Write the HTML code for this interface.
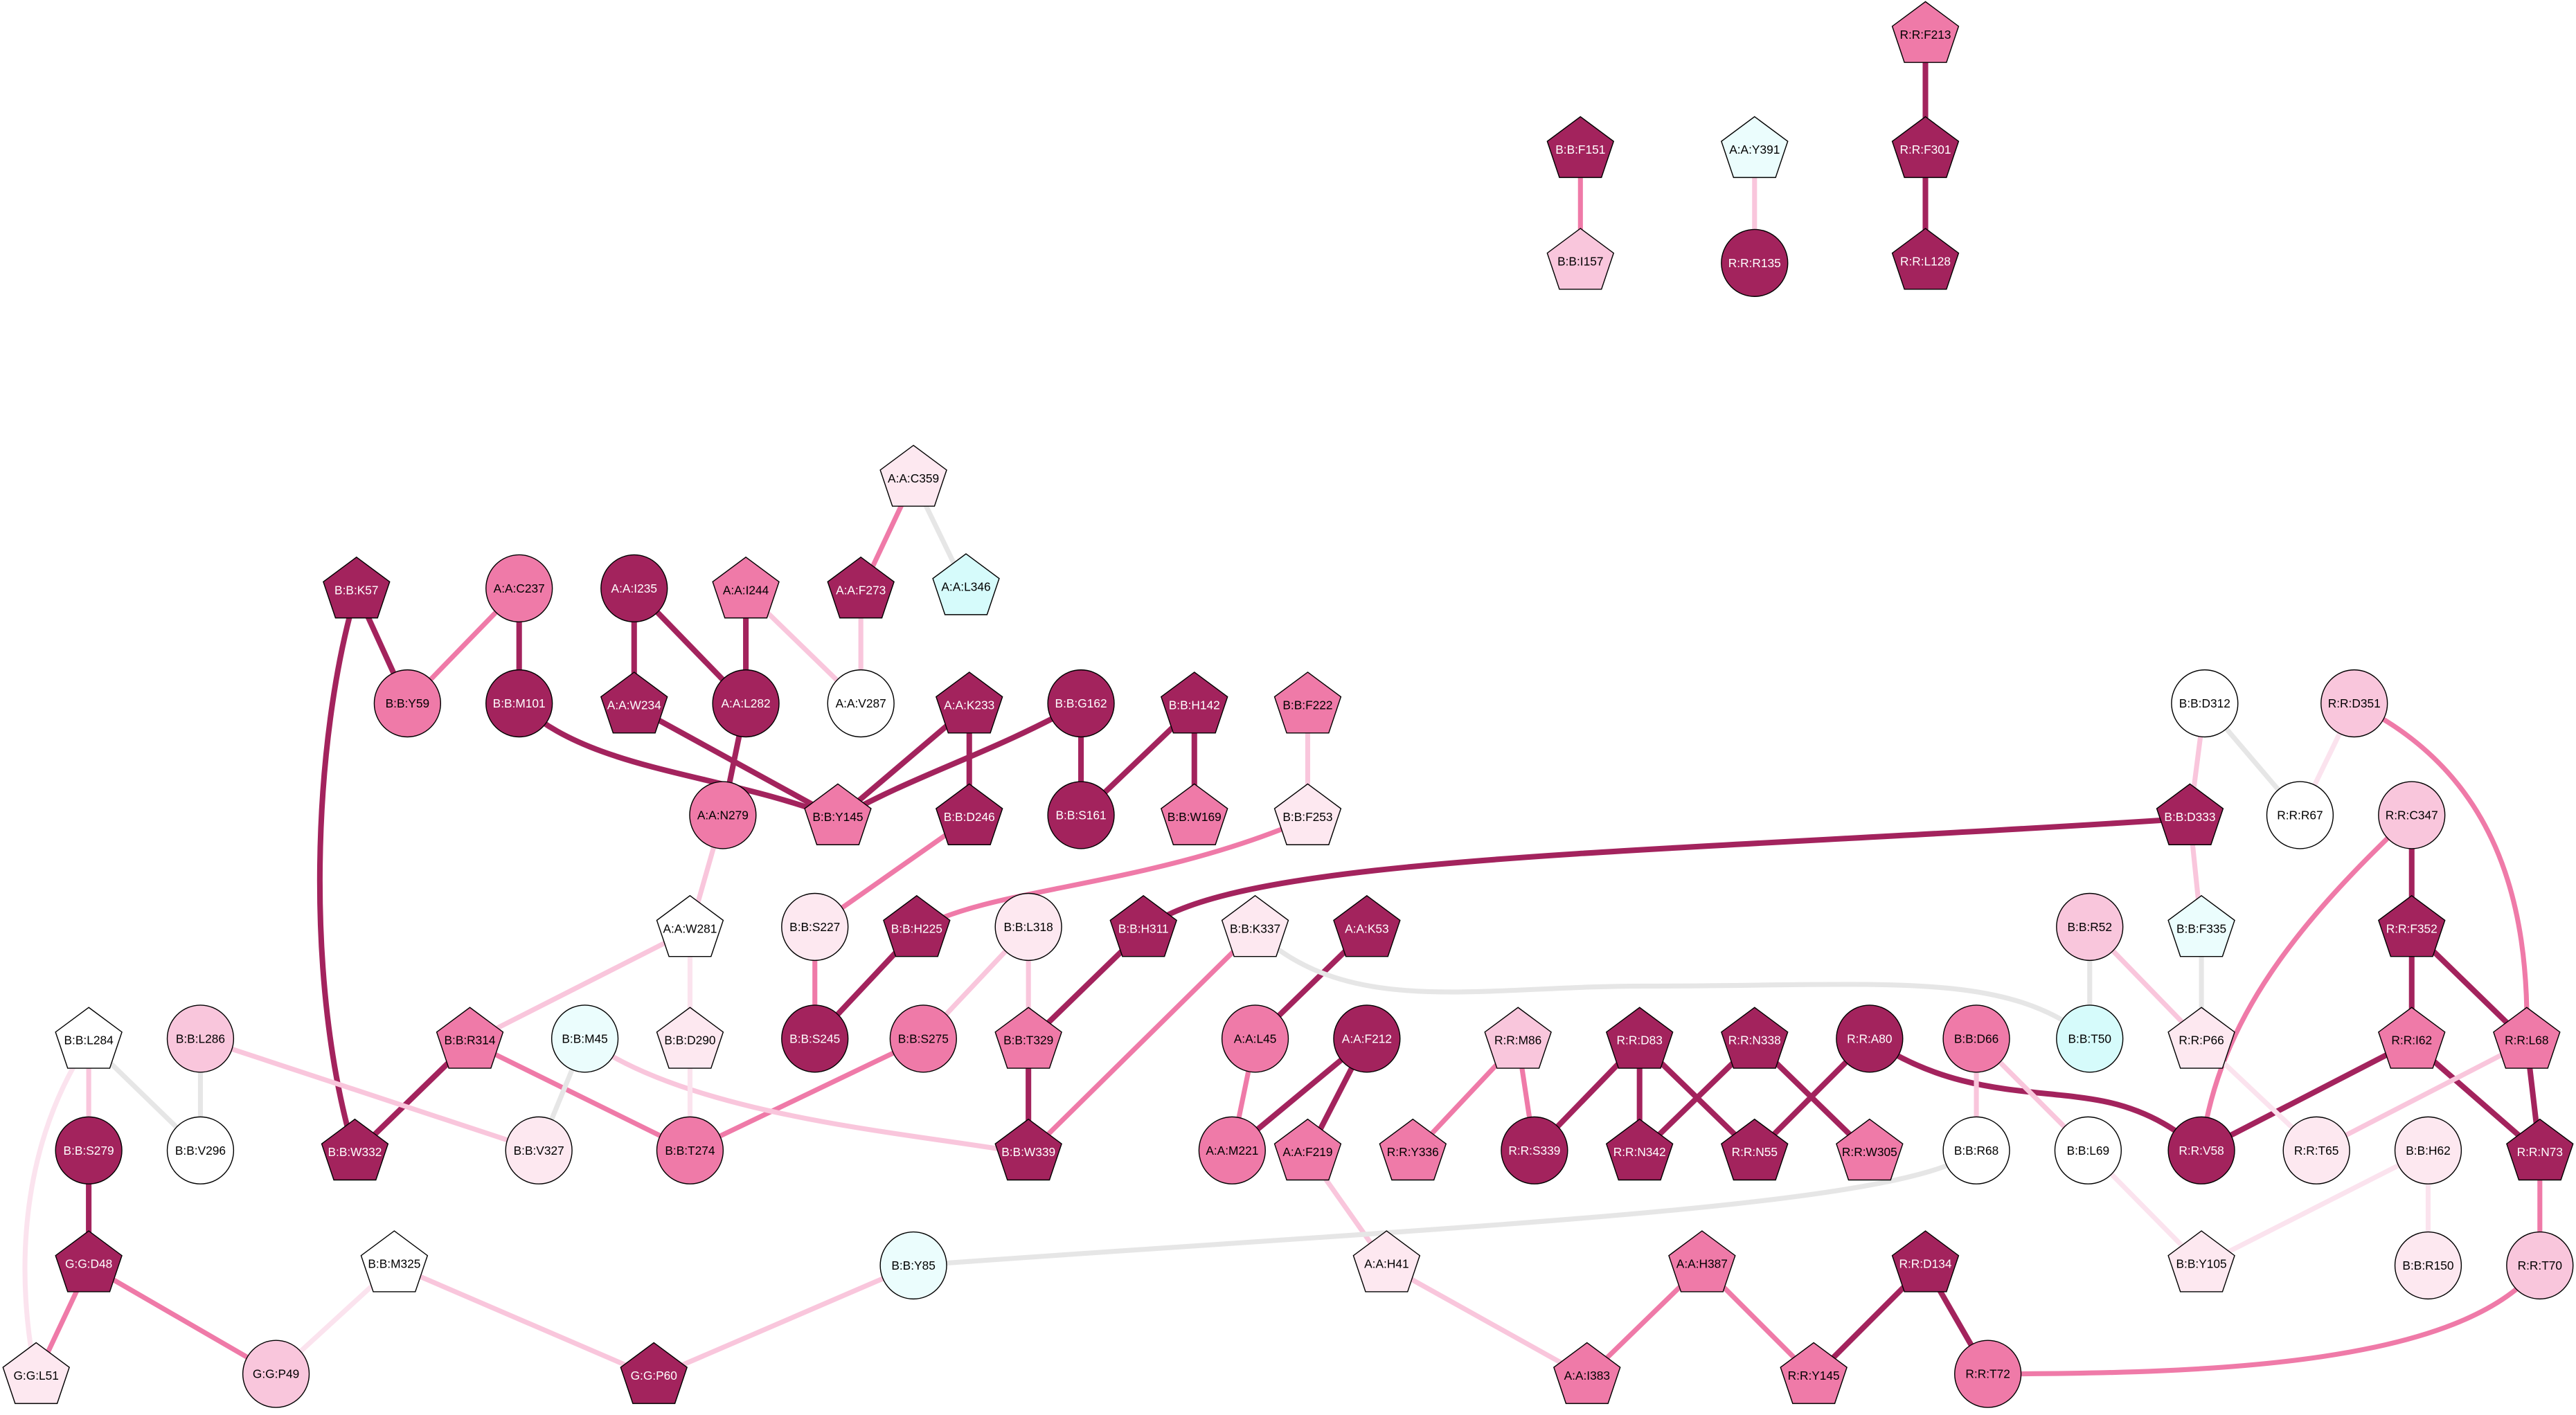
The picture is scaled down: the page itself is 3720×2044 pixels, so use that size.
<!DOCTYPE html>
<html><head><meta charset="utf-8"><style>
html,body{margin:0;padding:0;background:#fff;}
svg{display:block;}
text{font-family:"Liberation Sans",Arial,sans-serif;font-size:7.3px;text-anchor:middle;dominant-baseline:central;}
</style></head><body>
<svg width="3720" height="2044" viewBox="0 0 1568 861" preserveAspectRatio="none" xmlns="http://www.w3.org/2000/svg">
<g fill="none" stroke-linecap="butt">
<g stroke="#a3235d" stroke-width="3.4">
<path d="M1172,22 L1172,92 M1172,92 L1172,160"/>
<path d="M217,360 L248,428"/>
<path d="M217,360 C190,450 185,600 216,702"/>
<path d="M316,358 L316,428"/>
<path d="M386,358 L386,430 M386,358 L454,428 M454,360 L454,428"/>
<path d="M316,428 C360,470 440,470 510,498"/>
<path d="M386,430 L510,498"/>
<path d="M454,428 L440,496"/>
<path d="M590,430 L510,498 M590,430 L590,498"/>
<path d="M658,428 C600,460 560,470 510,498"/>
<path d="M658,428 L658,496 M727,430 L658,496 M727,430 L727,498"/>
<path d="M1333,498 C1000,520 750,520 696,566"/>
<path d="M1468,496 L1468,566 M1468,566 L1468,634 M1468,566 L1538,634"/>
<path d="M558,566 L496,632 M696,566 L626,634 M832,566 L764,632"/>
<path d="M286,634 L216,702 M626,634 L626,702"/>
<path d="M832,632 L750,700 M832,632 L796,702"/>
<path d="M998,634 L934,700 M998,634 L998,702 M998,634 L1068,702"/>
<path d="M1068,634 L998,702 M1068,634 L1138,702"/>
<path d="M1138,632 L1068,702"/>
<path d="M1138,632 C1190,668 1240,662 1280,670 C1310,676 1328,690 1340,700"/>
<path d="M1468,634 L1340,700 M1468,634 L1546,702 M1538,634 L1546,702"/>
<path d="M54,700 L54,770"/>
<path d="M1172,770 L1104,838 M1172,770 L1210,836"/>
</g>
<g stroke="#ef7aa8" stroke-width="3">
<path d="M962,92 L962,160"/>
<path d="M556,292 L524,360"/>
<path d="M316,358 L248,428"/>
<path d="M590,498 L496,564"/>
<path d="M796,498 C700,540 600,540 558,566"/>
<path d="M1433,428 C1520,470 1540,550 1538,634"/>
<path d="M1468,496 C1400,560 1350,620 1340,700"/>
<path d="M496,564 L496,632"/>
<path d="M764,566 L626,702"/>
<path d="M286,634 L420,700 M562,632 L420,700"/>
<path d="M764,632 L750,700"/>
<path d="M924,634 L860,702 M924,634 L934,700"/>
<path d="M1546,702 L1546,770"/>
<path d="M1546,770 C1500,830 1350,836 1210,836"/>
<path d="M54,770 L22,838 M54,770 L168,836"/>
<path d="M1036,770 L966,838 M1036,770 L1104,838"/>
</g>
<g stroke="#f9c6dc" stroke-width="3">
<path d="M1068,92 L1068,160"/>
<path d="M524,360 L524,428 M454,360 L524,428"/>
<path d="M796,430 L796,498"/>
<path d="M440,496 L420,566"/>
<path d="M1342,428 L1333,498 M1333,498 L1340,566"/>
<path d="M420,566 L286,634"/>
<path d="M626,564 L562,632 M626,564 L626,634"/>
<path d="M1272,564 L1340,634"/>
<path d="M54,634 L54,700"/>
<path d="M122,632 L328,700"/>
<path d="M356,632 C420,680 560,690 626,702"/>
<path d="M240,770 L398,838 M556,770 L398,838"/>
<path d="M796,702 L844,770 M844,770 L966,838"/>
<path d="M1538,634 L1410,700"/>
<path d="M1203,632 L1203,700 M1203,632 L1271,700"/>
</g>
<g stroke="#fbe3ee" stroke-width="3">
<path d="M1433,428 L1400,496"/>
<path d="M420,566 L420,634 M420,634 L420,700"/>
<path d="M54,634 C10,700 10,780 22,838"/>
<path d="M1340,634 L1410,700"/>
<path d="M1271,700 L1340,770 M1478,700 L1340,770 M1478,700 L1478,770"/>
<path d="M240,770 L168,836"/>
</g>
<g stroke="#e6e6e6" stroke-width="3">
<path d="M556,292 L588,358"/>
<path d="M1342,428 L1400,496"/>
<path d="M764,566 C820,620 900,600 1000,600 C1150,600 1220,590 1272,632"/>
<path d="M1272,564 L1272,632 M1340,566 L1340,634"/>
<path d="M54,634 L122,700 M122,632 L122,700"/>
<path d="M356,632 L328,700"/>
<path d="M1203,700 C1160,735 900,745 556,770"/>
</g>
</g>
<g id="nodes" stroke="#000" stroke-width="0.6"></g>
<script>
const C={d:"#a3235d",m:"#ef7aa8",l:"#f9c6dc",v:"#fde8f0",w:"#ffffff",c:"#d6fbfb",pc:"#ebfdfd"};
const N=[
["R:R:F213","p","m",1172,22],["B:B:F151","p","d",962,92],["A:A:Y391","p","pc",1068,92],["R:R:F301","p","d",1172,92],
["B:B:I157","p","l",962,160],["R:R:R135","c","d",1068,160],["R:R:L128","p","d",1172,160],
["A:A:C359","p","v",556,292],["A:A:F273","p","d",524,360],["A:A:L346","p","c",588,358],
["B:B:K57","p","d",217,360],["A:A:C237","c","m",316,358],["A:A:I235","c","d",386,358],["A:A:I244","p","m",454,360],
["B:B:Y59","c","m",248,428],["B:B:M101","c","d",316,428],["A:A:W234","p","d",386,430],["A:A:L282","c","d",454,428],
["A:A:V287","c","w",524,428],["A:A:K233","p","d",590,430],["B:B:G162","c","d",658,428],["B:B:H142","p","d",727,430],
["B:B:F222","p","m",796,430],["A:A:N279","c","m",440,496],["B:B:Y145","p","m",510,498],["B:B:D246","p","d",590,498],
["B:B:S161","c","d",658,496],["B:B:W169","p","m",727,498],["B:B:F253","p","v",796,498],
["B:B:D312","c","w",1342,428],["R:R:D351","c","l",1433,428],["R:R:R67","c","w",1400,496],["B:B:D333","p","d",1333,498],
["R:R:C347","c","l",1468,496],["A:A:W281","p","w",420,566],["B:B:S227","c","v",496,564],["B:B:H225","p","d",558,566],
["B:B:L318","c","v",626,564],["B:B:H311","p","d",696,566],["B:B:K337","p","v",764,566],["A:A:K53","p","d",832,566],
["B:B:R52","c","l",1272,564],["B:B:F335","p","pc",1340,566],["R:R:F352","p","d",1468,566],
["B:B:L284","p","w",54,634],["B:B:L286","c","l",122,632],["B:B:R314","p","m",286,634],["B:B:M45","c","pc",356,632],
["B:B:D290","p","v",420,634],["B:B:S245","c","d",496,632],["B:B:S275","c","m",562,632],["B:B:T329","p","m",626,634],
["A:A:L45","c","m",764,632],["A:A:F212","c","d",832,632],["R:R:M86","p","l",924,634],["R:R:D83","p","d",998,634],
["R:R:N338","p","d",1068,634],["R:R:A80","c","d",1138,632],["B:B:D66","c","m",1203,632],["B:B:T50","c","c",1272,632],
["R:R:P66","p","v",1340,634],["R:R:I62","p","m",1468,634],["R:R:L68","p","m",1538,634],
["B:B:S279","c","d",54,700],["B:B:V296","c","w",122,700],["B:B:W332","p","d",216,702],["B:B:V327","c","v",328,700],
["B:B:T274","c","m",420,700],["B:B:W339","p","d",626,702],["A:A:M221","c","m",750,700],["A:A:F219","p","m",796,702],
["R:R:Y336","p","m",860,702],["R:R:S339","c","d",934,700],["R:R:N342","p","d",998,702],["R:R:N55","p","d",1068,702],
["R:R:W305","p","m",1138,702],["B:B:R68","c","w",1203,700],["B:B:L69","c","w",1271,700],["R:R:V58","c","d",1340,700],
["R:R:T65","c","v",1410,700],["B:B:H62","c","v",1478,700],["R:R:N73","p","d",1546,702],
["G:G:D48","p","d",54,770],["B:B:M325","p","w",240,770],["B:B:Y85","c","pc",556,770],["A:A:H41","p","v",844,770],
["A:A:H387","p","m",1036,770],["R:R:D134","p","d",1172,770],["B:B:Y105","p","v",1340,770],["B:B:R150","c","v",1478,770],
["R:R:T70","c","l",1546,770],["G:G:L51","p","v",22,838],["G:G:P49","c","l",168,836],["G:G:P60","p","d",398,838],
["A:A:I383","p","m",966,838],["R:R:Y145","p","m",1104,838],["R:R:T72","c","m",1210,836]
];
const g=document.getElementById("nodes");const ns="http://www.w3.org/2000/svg";
for(const [t,s,c,x,y] of N){
 let e;
 if(s==="c"){e=document.createElementNS(ns,"ellipse");e.setAttribute("cx",x);e.setAttribute("cy",y);e.setAttribute("rx",20.2);e.setAttribute("ry",20.4);}
 else{e=document.createElementNS(ns,"polygon");
  const p=[[0,-21],[20.2,-6],[12.8,16],[-12.8,16],[-20.2,-6]];
  e.setAttribute("points",p.map(q=>(x+q[0])+","+(y+q[1])).join(" "));}
 e.setAttribute("fill",C[c]);g.appendChild(e);
 const tx=document.createElementNS(ns,"text");tx.setAttribute("x",x);tx.setAttribute("y",s==="c"?y:y-1);
 tx.setAttribute("stroke","none");tx.setAttribute("fill",c==="d"?"#fff":"#000");tx.textContent=t;g.appendChild(tx);
}
</script>
</svg>
</body></html>
